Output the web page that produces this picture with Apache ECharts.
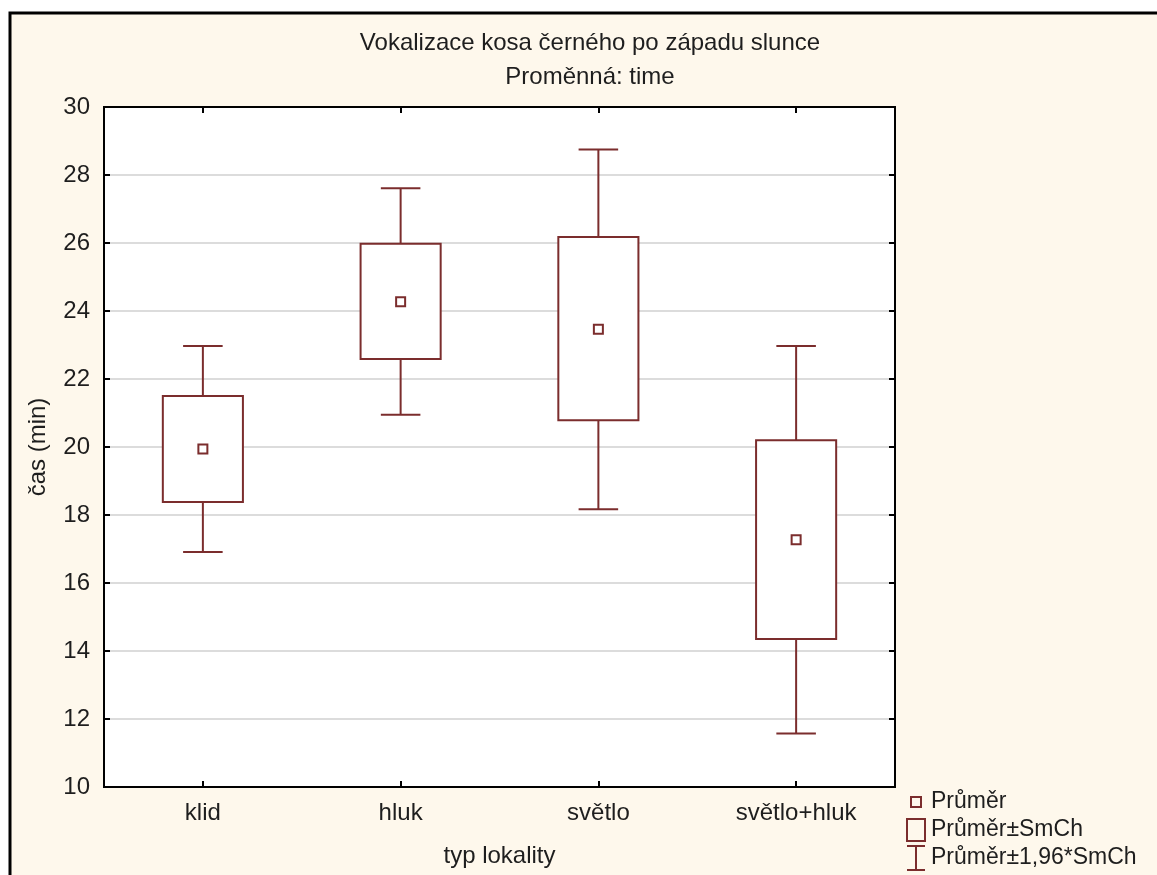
<!DOCTYPE html>
<html>
<head>
<meta charset="utf-8">
<script src="https://cdn.jsdelivr.net/npm/echarts@6/dist/echarts.min.js"></script>
<style>
html,body{margin:0;padding:0;background:#fff;}
#c{width:1157px;height:875px;}
</style>
</head>
<body>
<div id="c"></div>
<script>
// ---- data ----
const categories = ['klid', 'hluk', 'světlo', 'světlo+hluk'];
const means  = [19.94, 24.27, 23.46, 17.27];
const seLow  = [18.38, 22.59, 20.79, 14.35];
const seHigh = [21.50, 25.98, 26.18, 20.20];
const ciLow  = [16.91, 20.95, 18.17, 11.57];
const ciHigh = [22.97, 27.61, 28.75, 22.97];
const yTicks = [10, 12, 14, 16, 18, 20, 22, 24, 26, 28, 30];

const C = '#7b2d2d';
const FONT = 'Liberation Sans';
const TXT = '#1e1e1e';

const chart = echarts.init(document.getElementById('c'), null, {renderer: 'canvas'});

const boxData = categories.map((c, i) => [i, seLow[i], seHigh[i]]);
const whiskerData = categories.map((c, i) => [i, ciLow[i], ciHigh[i]]);
const meanData = categories.map((c, i) => [i, means[i]]);

const option = {
  animation: false,
  backgroundColor: '#fff',
  graphic: [{
    type: 'rect', z: -10, silent: true,
    shape: {x: 10, y: 13, width: 1300, height: 1000},
    style: {fill: '#fef8ec', stroke: '#000', lineWidth: 3}
  }],
  title: {
    text: 'Vokalizace kosa černého po západu slunce\nProměnná: time',
    left: 590, top: 26, textAlign: 'center', padding: 0,
    textStyle: {fontFamily: FONT, fontSize: 24, fontWeight: 'normal', color: TXT, lineHeight: 34}
  },
  legend: {
    orient: 'vertical', left: 905, top: 788, padding: 0,
    itemWidth: 20, itemHeight: 26, itemGap: 0,
    selectedMode: false,
    textStyle: {fontFamily: FONT, fontSize: 23, color: TXT, lineHeight: 26},
    itemStyle: {color: 'rgba(0,0,0,0)', borderColor: C, borderWidth: 2},
    data: [
      {name: 'Průměr', icon: 'path://M0,0M20,26M5,8L15,8L15,18L5,18Z'},
      {name: 'Průměr±SmCh', icon: 'path://M0,0M20,26M1,2L19,2L19,24L1,24Z'},
      {name: 'Průměr±1,96*SmCh', icon: 'path://M0,0M20,26M1,1L19,1M10,1L10,25M1,25L19,25'}
    ]
  },
  grid: {
    left: 104, top: 107, right: 262, bottom: 88,
    show: true, backgroundColor: '#fff', borderColor: '#000', borderWidth: 2
  },
  xAxis: [{
    type: 'category', data: categories, position: 'bottom',
    name: 'typ lokality', nameLocation: 'middle', nameGap: 57,
    nameTextStyle: {fontFamily: FONT, fontSize: 24, color: TXT},
    axisLine: {show: true, lineStyle: {color: '#000', width: 2}},
    axisTick: {show: true, inside: true, length: 6, alignWithLabel: true, lineStyle: {color: '#000', width: 2}},
    axisLabel: {fontFamily: FONT, fontSize: 24, color: TXT, margin: 14},
    splitLine: {show: false}
  }, {
    type: 'category', data: categories, position: 'top',
    axisLine: {show: true, lineStyle: {color: '#000', width: 2}},
    axisTick: {show: true, inside: true, length: 6, alignWithLabel: true, lineStyle: {color: '#000', width: 2}},
    axisLabel: {show: false},
    splitLine: {show: false}
  }],
  yAxis: [{
    type: 'value', min: yTicks[0], max: yTicks[yTicks.length - 1], interval: 2, position: 'left',
    name: 'čas (min)', nameLocation: 'middle', nameGap: 54,
    nameTextStyle: {fontFamily: FONT, fontSize: 24, color: TXT},
    axisLine: {show: true, lineStyle: {color: '#000', width: 2}},
    axisTick: {show: true, inside: true, length: 6, lineStyle: {color: '#000', width: 2}},
    axisLabel: {fontFamily: FONT, fontSize: 24, color: TXT, margin: 14},
    splitLine: {show: true, lineStyle: {color: '#dcdcdc', width: 2}}
  }, {
    type: 'value', min: yTicks[0], max: yTicks[yTicks.length - 1], interval: 2, position: 'right',
    axisLine: {show: true, lineStyle: {color: '#000', width: 2}},
    axisTick: {show: true, inside: true, length: 6, lineStyle: {color: '#000', width: 2}},
    axisLabel: {show: false},
    splitLine: {show: false}
  }],
  series: [{
    name: 'Průměr±1,96*SmCh',
    type: 'custom',
    data: whiskerData,
    z: 2,
    renderItem: function (params, api) {
      const i = api.value(0);
      const lo = api.coord([i, api.value(1)]);
      const hi = api.coord([i, api.value(2)]);
      const cap = api.size([1, 0])[0] * 0.2;
      const st = {stroke: C, lineWidth: 2, fill: null};
      return {type: 'group', children: [
        {type: 'line', shape: {x1: lo[0], y1: lo[1], x2: hi[0], y2: hi[1]}, style: st},
        {type: 'line', shape: {x1: lo[0] - cap / 2, y1: lo[1], x2: lo[0] + cap / 2, y2: lo[1]}, style: st},
        {type: 'line', shape: {x1: hi[0] - cap / 2, y1: hi[1], x2: hi[0] + cap / 2, y2: hi[1]}, style: st}
      ]};
    }
  }, {
    name: 'Průměr±SmCh',
    type: 'custom',
    data: boxData,
    z: 3,
    renderItem: function (params, api) {
      const i = api.value(0);
      const lo = api.coord([i, api.value(1)]);
      const hi = api.coord([i, api.value(2)]);
      const w = api.size([1, 0])[0] * 0.405;
      return {type: 'rect',
        shape: {x: lo[0] - w / 2, y: hi[1], width: w, height: lo[1] - hi[1]},
        style: {fill: '#fff', stroke: C, lineWidth: 2}};
    }
  }, {
    name: 'Průměr',
    type: 'scatter',
    data: meanData,
    z: 4,
    symbol: 'rect',
    symbolSize: 9,
    itemStyle: {color: '#fff', borderColor: C, borderWidth: 2, opacity: 1}
  }]
};
chart.setOption(option);
</script>
</body>
</html>
